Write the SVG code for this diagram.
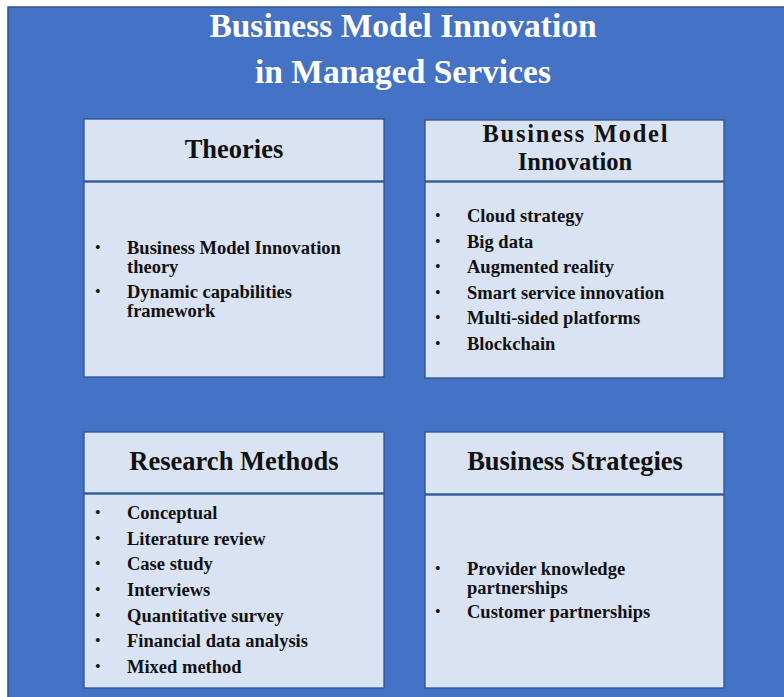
<svg xmlns="http://www.w3.org/2000/svg" width="784" height="697" viewBox="0 0 784 697">
<style>
.bg{fill:#4472C4;stroke:#2F528F;stroke-width:1.5}
.box{fill:#DAE3F3;stroke:#2F528F;stroke-width:1.3}
.title{font-family:"Liberation Serif","Times New Roman",serif;font-weight:bold;font-size:33.5px;fill:#FFFFFF;text-anchor:middle}
.head{font-family:"Liberation Serif","Times New Roman",serif;font-weight:bold;font-size:26.5px;fill:#111111;text-anchor:middle}
.head2{font-family:"Liberation Serif","Times New Roman",serif;font-weight:bold;font-size:24.5px;fill:#111111;text-anchor:middle}
.item{font-family:"Liberation Serif","Times New Roman",serif;font-weight:bold;font-size:18.5px;fill:#111111}
.dot{font-family:"Liberation Serif","Times New Roman",serif;font-size:16px;fill:#111111}
</style>
<rect x="0" y="0" width="784" height="697" fill="#FFFFFF"/>
<rect class="bg" x="8" y="7" width="790" height="700"/>
<g id="title">
<text class="title" x="403" y="37">Business Model Innovation</text>
<text class="title" x="403" y="83">in Managed Services</text>
</g>
<g id="connectors"></g>
<g id="theories">
<rect class="box" x="84" y="119" width="300" height="62"/>
<rect class="box" x="84" y="182" width="300" height="195"/>
<text class="head" x="234" y="158">Theories</text>
<text class="dot" x="95" y="253">•</text>
<text class="item" x="127" y="254">Business Model Innovation</text>
<text class="item" x="127" y="273">theory</text>
<text class="dot" x="95" y="297">•</text>
<text class="item" x="127" y="298">Dynamic capabilities</text>
<text class="item" x="127" y="317">framework</text>
</g>
<g id="bmi">
<rect class="box" x="425" y="120" width="299" height="61"/>
<rect class="box" x="425" y="182" width="299" height="196"/>
<text class="head2" x="575" y="142" textLength="185" lengthAdjust="spacing">Business Model</text>
<text class="head2" x="575" y="170">Innovation</text>
<text class="dot" x="435" y="221">•</text>
<text class="item" x="467" y="222">Cloud strategy</text>
<text class="dot" x="435" y="247">•</text>
<text class="item" x="467" y="248">Big data</text>
<text class="dot" x="435" y="272">•</text>
<text class="item" x="467" y="273">Augmented reality</text>
<text class="dot" x="435" y="298">•</text>
<text class="item" x="467" y="299">Smart service innovation</text>
<text class="dot" x="435" y="323">•</text>
<text class="item" x="467" y="324">Multi-sided platforms</text>
<text class="dot" x="435" y="349">•</text>
<text class="item" x="467" y="350">Blockchain</text>
</g>
<g id="research">
<rect class="box" x="84" y="432" width="300" height="61"/>
<rect class="box" x="84" y="494" width="300" height="194"/>
<text class="head" x="234" y="470">Research Methods</text>
<text class="dot" x="95" y="518">•</text>
<text class="item" x="127" y="519">Conceptual</text>
<text class="dot" x="95" y="544">•</text>
<text class="item" x="127" y="545">Literature review</text>
<text class="dot" x="95" y="569">•</text>
<text class="item" x="127" y="570">Case study</text>
<text class="dot" x="95" y="595">•</text>
<text class="item" x="127" y="596">Interviews</text>
<text class="dot" x="95" y="621">•</text>
<text class="item" x="127" y="622">Quantitative survey</text>
<text class="dot" x="95" y="646">•</text>
<text class="item" x="127" y="647">Financial data analysis</text>
<text class="dot" x="95" y="672">•</text>
<text class="item" x="127" y="673">Mixed method</text>
</g>
<g id="strategies">
<rect class="box" x="425" y="432" width="299" height="62"/>
<rect class="box" x="425" y="495" width="299" height="193"/>
<text class="head" x="575" y="470">Business Strategies</text>
<text class="dot" x="435" y="574">•</text>
<text class="item" x="467" y="575">Provider knowledge</text>
<text class="item" x="467" y="594">partnerships</text>
<text class="dot" x="435" y="617">•</text>
<text class="item" x="467" y="618">Customer partnerships</text>
</g>
</svg>
